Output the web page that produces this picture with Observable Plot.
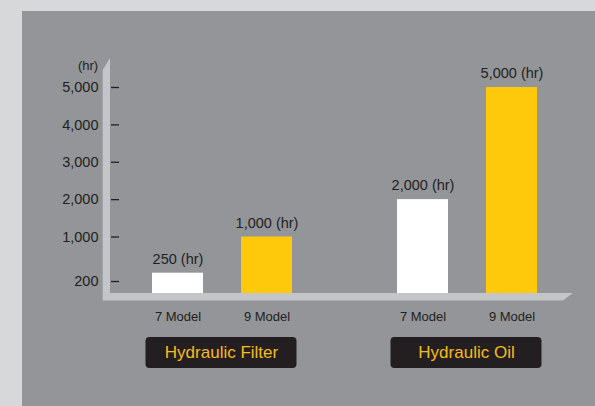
<!DOCTYPE html>
<html><head><meta charset="utf-8">
<script src="https://cdn.jsdelivr.net/npm/d3@7"></script>
<script src="https://cdn.jsdelivr.net/npm/@observablehq/plot@0.6"></script>
<style>
html,body{margin:0;padding:0;background:#d7d8da;width:595px;height:406px;overflow:hidden}
#chart{position:absolute;left:22px;top:11px;}
#chart svg{display:block;background:#939598}
</style></head><body><div id="chart"></div>
<script>
const groups = ["Hydraulic Filter", "Hydraulic Oil"];
const models = ["7 Model", "9 Model"];
const filterHours = [250, 1000];
const oilHours = [2000, 5000];
const yTicks = [200, 1000, 2000, 3000, 4000, 5000];
const unit = "(hr)";
const barColors = ["#ffffff", "#fec80b"];

const rows = [
  ...models.map((m, i) => ({group: groups[0], model: m, hours: filterHours[i]})),
  ...models.map((m, i) => ({group: groups[1], model: m, hours: oilHours[i]}))
];
const font = '"Liberation Sans", Arial, sans-serif';
const W = 573, H = 395;
const mL = 96, mR = 24.7, mT = 54, mB = 38;
const fmt = d3.format(",");

// broken-axis transform: the reference compresses the low end of the scale
const brk = d3.scaleLinear().domain([0, 200, 250, 1000, 5000]).range([0, 12, 20.3, 56.5, 206]);

const plot = Plot.plot({
  width: W, height: H,
  marginLeft: mL, marginRight: mR, marginTop: mT, marginBottom: mB,
  style: {fontFamily: font, background: "#939598", color: "#231f20", overflow: "visible"},
  fx: {domain: groups, paddingInner: 0.159, paddingOuter: 0, axis: null},
  x: {domain: models, paddingInner: 0.43, paddingOuter: 0.369, axis: null},
  y: {transform: brk, domain: [0, 206], range: [282, 76], axis: null},
  color: {domain: models, range: barColors},
  marks: [
    Plot.axisY({ticks: yTicks.map(v => brk(v)), tickSize: 8, tickPadding: 13,
      tickFormat: t => fmt(Math.round(brk.invert(t))), fontSize: 14.5, strokeWidth: 1.3, label: null}),
    Plot.barY(rows, {fx: "group", x: "model", y: "hours", fill: "model"}),
    Plot.text(rows, {fx: "group", x: "model", y: "hours", text: d => fmt(d.hours) + " " + unit, dy: -14, fontSize: 14.5, fill: "#231f20", letterSpacing: "-0.5px"}),
    Plot.text(rows, {fx: "group", x: "model", text: "model", frameAnchor: "bottom", lineAnchor: "middle", dy: -51.3, fontSize: 13, fill: "#231f20", letterSpacing: "-0.4px"}),
    Plot.rect(groups, {fx: d => d, fill: "#231f20", rx: 4, insetTop: 272, insetLeft: 26.5, insetRight: 28.5}),
    Plot.text(groups, {fx: d => d, text: d => d, frameAnchor: "bottom", lineAnchor: "middle", dy: -15.5, dx: -1, fontSize: 17, fill: "#f6bb1c", letterSpacing: "-0.4px"}),
    Plot.text([groups[0]], {fx: d => d, text: () => unit, frameAnchor: "top-left", lineAnchor: "middle", textAnchor: "end", dx: -21.3, fontSize: 13, fill: "#231f20", letterSpacing: "-0.8px"})
  ]
});

// decorative L-shaped axis band, positioned from the plot's own scales
const ys = plot.scale("y");
const y0 = ys.apply(brk(0)), yTop = ys.apply(brk(5000)) - 29;
const xL = mL - 15.3, xB = mL - 8, xR = W - mR + 2.7;
const pts = [[xL, yTop + 12], [xB, yTop], [xB, y0], [xR, y0], [xR - 10, y0 + 7.4], [xL, y0 + 7.4]];
const poly = document.createElementNS("http://www.w3.org/2000/svg", "polygon");
poly.setAttribute("points", pts.map(p => p.join(",")).join(" "));
poly.setAttribute("fill", "#c4c5c8");
const st = plot.querySelector("style");
plot.insertBefore(poly, st ? st.nextSibling : plot.firstChild);

document.getElementById("chart").appendChild(plot);
</script></body></html>
